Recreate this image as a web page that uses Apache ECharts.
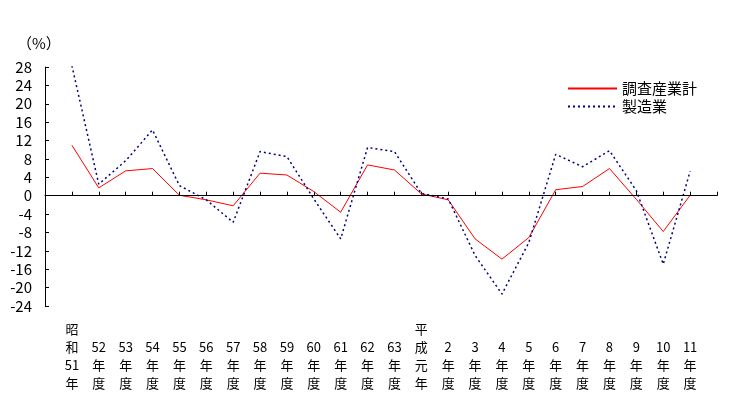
<!DOCTYPE html>
<html>
<head>
<meta charset="utf-8">
<script src="https://cdn.jsdelivr.net/npm/echarts@6.0.0/dist/echarts.min.js"></script>
<style>
  html, body { margin: 0; padding: 0; background: #fff; }
  #chart { width: 734px; height: 399px; }
</style>
</head>
<body>
<div id="chart"></div>
<script>
  // 年度ラベル（昭和51年～平成11年度）
  const years = [
    "昭和51年", "52年度", "53年度", "54年度", "55年度", "56年度", "57年度",
    "58年度", "59年度", "60年度", "61年度", "62年度", "63年度",
    "平成元年", "2年度", "3年度", "4年度", "5年度", "6年度", "7年度",
    "8年度", "9年度", "10年度", "11年度"
  ];
  const seriesNames = ["調査産業計", "製造業"];
  const totalValues = [
    11.0, 1.7, 5.4, 5.9, 0.1, -0.9, -2.2, 4.9, 4.5, 0.9, -3.6, 6.7, 5.6,
    0.4, -0.9, -9.4, -13.8, -9.1, 1.3, 2.0, 5.9, -0.8, -7.8, 0.1
  ];
  const mfgValues = [
    28.3, 2.5, 7.6, 14.3, 2.2, -0.9, -5.8, 9.6, 8.5, -0.7, -9.4, 10.5, 9.6,
    0.5, -0.7, -13.0, -21.4, -10.2, 9.0, 6.3, 9.8, 1.1, -14.9, 5.3
  ];
  const yTicks = { min: -24, max: 28, step: 4 };

  // blank slot at each end so the points sit one step inside the axis
  const cats = [""].concat(years, [""]);
  const pad = (arr) => [null].concat(arr, [null]);

  // "52年度" -> 縦書き 4行 (bottom aligned)
  function verticalLabel(s) {
    if (!s) return "";
    const parts = s.match(/\d+|./g);
    while (parts.length < 4) parts.unshift("");
    return parts.join("\n");
  }

  const font = "'Noto Sans CJK JP', 'DejaVu Sans', sans-serif";
  const chart = echarts.init(document.getElementById("chart"));

  chart.setOption({
    animation: false,
    backgroundColor: "#fff",
    title: {
      text: "（%）",
      left: 12,
      top: 31,
      textStyle: { fontFamily: font, fontSize: 15, fontWeight: "normal", color: "#000" }
    },
    legend: {
      orient: "vertical",
      left: 562,
      top: 76,
      itemWidth: 49,
      itemHeight: 14,
      itemGap: 3,
      itemStyle: { opacity: 0 },
      textStyle: { fontFamily: font, fontSize: 15, color: "#000" },
      data: seriesNames
    },
    grid: { left: 45, right: 17, top: 67, bottom: 93 },
    xAxis: {
      type: "category",
      data: cats,
      boundaryGap: false,
      axisLine: { lineStyle: { color: "#000", width: 1 } },
      axisTick: { inside: true, length: 4, interval: 0, lineStyle: { color: "#000" } },
      axisLabel: {
        interval: 0,
        margin: 14,
        fontFamily: font,
        fontSize: 13,
        lineHeight: 18,
        color: "#000",
        formatter: verticalLabel
      },
      splitLine: { show: false }
    },
    yAxis: {
      type: "value",
      min: yTicks.min,
      max: yTicks.max,
      interval: yTicks.step,
      axisLine: { show: true, lineStyle: { color: "#000", width: 1 } },
      axisTick: { show: true, inside: true, length: 4, lineStyle: { color: "#000" } },
      axisLabel: { margin: 13, fontFamily: font, fontSize: 15, color: "#000" },
      splitLine: { show: false }
    },
    series: [
      {
        name: seriesNames[0],
        type: "line",
        data: pad(totalValues),
        symbol: "none",
        itemStyle: { color: "#ff0000" },
        lineStyle: { color: "#ff0000", width: 1 },
        markLine: {
          silent: true,
          symbol: "none",
          label: { show: false },
          lineStyle: { color: "#000", width: 1, type: "solid" },
          data: [{ yAxis: 0 }]
        }
      },
      {
        name: seriesNames[1],
        type: "line",
        data: pad(mfgValues),
        symbol: "none",
        itemStyle: { color: "#000080" },
        lineStyle: { color: "#000080", width: 1.5, type: [2, 3] }
      }
    ]
  });
</script>
</body>
</html>
